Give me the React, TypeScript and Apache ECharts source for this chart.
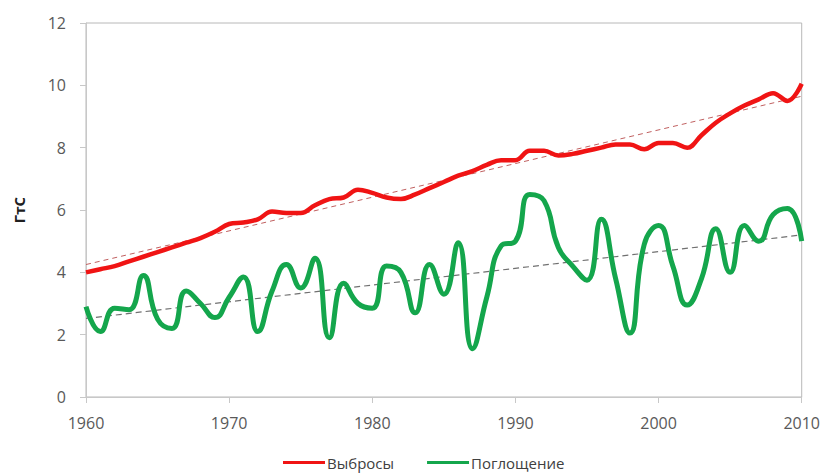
import React, { useEffect, useRef } from "react";
import * as echarts from "echarts";

const years: number[] = [];
for (let y = 1960; y <= 2010; y++) years.push(y);

const emissions = [
  4.0, 4.1, 4.2, 4.35, 4.5, 4.65, 4.8, 4.95, 5.1, 5.3,
  5.55, 5.6, 5.7, 5.95, 5.9, 5.9, 6.15, 6.35, 6.4, 6.65,
  6.55, 6.4, 6.35, 6.5, 6.7, 6.9, 7.1, 7.25, 7.45, 7.6,
  7.6, 7.9, 7.9, 7.75, 7.8, 7.9, 8.0, 8.1, 8.1, 7.95,
  8.15, 8.15, 8.0, 8.4, 8.8, 9.1, 9.35, 9.55, 9.75, 9.5,
  10.05,
];

const sink = [
  2.9, 2.1, 2.85, 2.8, 3.9, 2.5, 2.2, 3.4, 3.0, 2.55,
  3.2, 3.85, 2.1, 3.4, 4.25, 3.5, 4.45, 1.9, 3.65, 3.0,
  2.85, 4.2, 4.0, 2.7, 4.25, 3.3, 4.95, 1.55, 3.2, 4.85,
  5.0, 6.5, 6.3, 4.8, 4.2, 3.75, 5.7, 3.8, 2.05, 4.9,
  5.5, 4.2, 2.95, 3.8, 5.4, 4.0, 5.5, 5.0, 5.85, 6.05,
  5.0,
];

const trendYears = [1960, 2010];
const emissionsTrend = [4.25, 9.65];
const sinkTrend = [2.52, 5.2];

const seriesNames = ["Выбросы", "Поглощение"];
const yAxisTitle = "ГтС";

export default function App() {
  const ref = useRef<HTMLDivElement>(null);
  useEffect(() => {
    if (!ref.current) return;
    const chart = echarts.init(ref.current, null, { renderer: "svg" });
    const font = "'Open Sans', 'Liberation Sans', sans-serif";
    chart.setOption({
      animation: false,
      backgroundColor: "#ffffff",
      grid: {
        left: 86,
        right: 20,
        top: 23,
        bottom: 76,
        show: true,
        borderColor: "#b8b8b8",
        borderWidth: 1,
      },
      legend: {
        data: seriesNames,
        left: 278,
        top: 450,
        icon: "rect",
        itemWidth: 42,
        itemHeight: 3,
        itemGap: 33,
        textStyle: { fontFamily: font, fontSize: 15, color: "#404040", padding: [0, 0, 0, -3] },
      },
      xAxis: {
        type: "value",
        min: 1960,
        max: 2010,
        interval: 10,
        axisLine: { show: true, lineStyle: { color: "#c8c8c8" } },
        axisTick: { show: true, length: 6, lineStyle: { color: "#c8c8c8" } },
        splitLine: { show: false },
        axisLabel: {
          fontFamily: font,
          fontSize: 16,
          color: "#595959",
          margin: 18,
          formatter: (v: number) => String(v),
        },
      },
      yAxis: {
        type: "value",
        min: 0,
        max: 12,
        interval: 2,
        name: yAxisTitle,
        nameLocation: "middle",
        nameGap: 60,
        nameTextStyle: { fontFamily: font, fontSize: 15, fontWeight: "bold", color: "#202020" },
        axisLine: { show: true, lineStyle: { color: "#c8c8c8" } },
        axisTick: { show: true, length: 6, lineStyle: { color: "#c8c8c8" } },
        splitLine: { show: false },
        axisLabel: { fontFamily: font, fontSize: 16, color: "#595959", margin: 20 },
      },
      series: [
        {
          name: "trend-e",
          type: "line",
          data: trendYears.map((y, i) => [y, emissionsTrend[i]]),
          symbol: "none",
          lineStyle: { color: "#c06060", width: 1, type: [5, 4] },
          z: 1,
        },
        {
          name: "trend-s",
          type: "line",
          data: trendYears.map((y, i) => [y, sinkTrend[i]]),
          symbol: "none",
          lineStyle: { color: "#707070", width: 1.2, type: [6, 4] },
          z: 1,
        },
        {
          name: seriesNames[0],
          type: "line",
          data: years.map((y, i) => [y, emissions[i]]),
          smooth: 0.4,
          symbol: "none",
          color: "#f01414",
          lineStyle: { color: "#f01414", width: 4.5 },
          z: 3,
        },
        {
          name: seriesNames[1],
          type: "line",
          data: years.map((y, i) => [y, sink[i]]),
          smooth: 0.5,
          symbol: "none",
          color: "#14a64c",
          lineStyle: { color: "#14a64c", width: 5 },
          z: 2,
        },
      ],
    });
    return () => chart.dispose();
  }, []);
  return (
    <div
      ref={ref}
      style={{ position: "fixed", left: 0, top: 0, width: 823, height: 473 }}
    />
  );
}
